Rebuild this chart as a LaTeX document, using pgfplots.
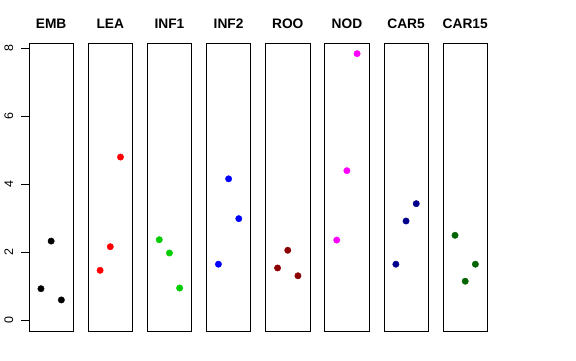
\documentclass[border=0pt]{standalone}
\usepackage{pgfplots}
\pgfplotsset{compat=1.18}
\usepackage{fontspec}
\setmainfont{Liberation Sans}
\definecolor{cblack}{HTML}{000000}
\definecolor{cred}{HTML}{FF0000}
\definecolor{cgreen}{HTML}{00CD00}
\definecolor{cblue}{HTML}{0000FF}
\definecolor{cdred}{HTML}{8B0000}
\definecolor{cmag}{HTML}{FF00FF}
\definecolor{cnavy}{HTML}{00008B}
\definecolor{cdgreen}{HTML}{006400}
\pgfplotsset{
  panel/.style={
    scale only axis, width=44.3bp, height=288bp,
    xmin=0, xmax=1, ymin=-0.3136, ymax=8.1536,
    xtick=\empty, ytick=\empty,
    axis line style={black, line width=0.8bp},
    clip=false,
    title style={font=\bfseries\fontsize{13.8}{16}\selectfont, at={(0.5,1)}, anchor=base, yshift=8.7bp},
    anchor=south west,
  },
  pts/.style={only marks, mark=*, mark size=3.2bp, mark options={draw=#1, fill=#1}},
}
\begin{document}
\begin{tikzpicture}[x=1bp,y=1bp]
\path[use as bounding box] (0,0) rectangle (576,360);
\begin{axis}[panel, at={(29bp,29bp)}, title={EMB},
  ytick={0,2,4,6,8}, ytick pos=left, tick align=outside,
  major tick length=8bp, tick style={black, line width=0.8bp},
  /pgf/number format/assume math mode=true,
  tick label style={font=\fontsize{12.5}{14}\selectfont},
  yticklabel shift=8bp,
  yticklabel style={rotate=90, anchor=base, inner sep=0pt, outer sep=0pt}]
\addplot[pts=cblack] coordinates {(0.27,0.93) (0.5,2.33) (0.73,0.60)};
\end{axis}
\begin{axis}[panel, at={(88.15bp,29bp)}, title={LEA}]
\addplot[pts=cred] coordinates {(0.27,1.47) (0.5,2.165) (0.73,4.80)};
\end{axis}
\begin{axis}[panel, at={(147.3bp,29bp)}, title={INF1}]
\addplot[pts=cgreen] coordinates {(0.27,2.37) (0.5,1.98) (0.73,0.95)};
\end{axis}
\begin{axis}[panel, at={(206.45bp,29bp)}, title={INF2}]
\addplot[pts=cblue] coordinates {(0.27,1.65) (0.5,4.16) (0.73,2.99)};
\end{axis}
\begin{axis}[panel, at={(265.6bp,29bp)}, title={ROO}]
\addplot[pts=cdred] coordinates {(0.27,1.54) (0.5,2.06) (0.73,1.31)};
\end{axis}
\begin{axis}[panel, at={(324.75bp,29bp)}, title={NOD}]
\addplot[pts=cmag] coordinates {(0.27,2.36) (0.5,4.40) (0.73,7.84)};
\end{axis}
\begin{axis}[panel, at={(383.9bp,29bp)}, title={CAR5}]
\addplot[pts=cnavy] coordinates {(0.27,1.65) (0.5,2.92) (0.73,3.43)};
\end{axis}
\begin{axis}[panel, at={(443.05bp,29bp)}, title={CAR15}]
\addplot[pts=cdgreen] coordinates {(0.27,2.50) (0.5,1.15) (0.73,1.65)};
\end{axis}
\end{tikzpicture}
\end{document}
